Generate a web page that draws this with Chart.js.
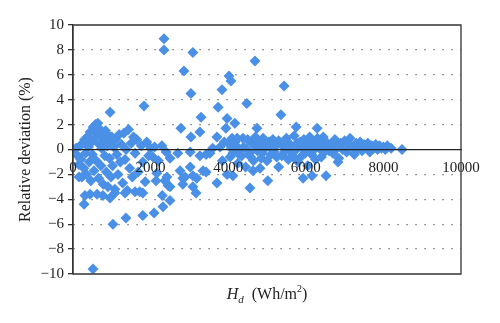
<!DOCTYPE html>
<html>
<head>
<meta charset="utf-8">
<script src="https://cdn.jsdelivr.net/npm/chart.js@4.4.1/dist/chart.umd.min.js"></script>
<style>
  html, body { margin: 0; padding: 0; background: #fff; }
  #wrap { width: 500px; height: 323px; }
</style>
</head>
<body>
<div id="wrap"><canvas id="devChart" width="500" height="323"></canvas></div>
<script>
// H_d (Wh/m2) vs relative deviation (%), grouped by range of H_d
var lowRange = [
  [0, 0], [80, 0.1], [120, -0.5], [150, -1.2], [155, -2.2], [180, 0.3], [200, -0.8], [230, -2.2],
  [260, 0.5], [280, -1.5], [285, -4.4], [300, 0.8], [310, -3.7], [320, -0.3], [350, -2.0], [370, 1.0],
  [400, 0.2], [420, -1.0], [440, 1.4], [440, -3.6], [460, -2.5], [480, 0.6], [500, -0.4], [515, -9.6],
  [520, 1.8], [540, -1.7], [560, 0.9], [580, 2.0], [600, -0.9], [620, 1.3], [620, -3.6], [640, 2.1],
  [660, -2.3], [680, 0.4], [700, 1.6], [720, -1.3], [740, 0.1], [760, 1.0], [770, -3.7], [780, -2.8],
  [800, 0.7], [820, -0.5], [840, 1.5], [860, -1.8], [880, 0.3], [900, -3.0], [920, 1.1], [940, -0.7],
  [955, 3.0], [955, -3.9], [960, 0.5], [980, -2.2], [1000, 1.0], [1020, -1.3], [1030, -6.0], [1050, 0.2],
  [1080, -3.2], [1080, -3.5], [1100, 0.8], [1130, -0.4], [1160, -2.0], [1190, 1.2], [1220, -1.0],
  [1250, 0.4], [1280, -2.7], [1310, 1.3], [1340, -0.8], [1340, -3.5], [1365, -5.5], [1370, 0.0],
  [1400, -3.3], [1430, 1.6], [1460, -1.5], [1500, 0.5], [1530, -2.2], [1560, 1.0], [1600, -0.3],
  [1600, -3.4], [1640, 0.8], [1680, -1.8], [1720, -3.4], [1760, 0.3], [1800, -1.0], [1800, -3.5],
  [1800, -5.3], [1830, 3.5], [1860, -2.6]
];

var midRange = [
  [1900, 0.6], [1950, -0.5], [2000, 0.1], [2060, -0.6], [2090, -5.1], [2100, 0.2], [2140, -2.5],
  [2160, -1.9], [2200, -0.9], [2290, 0.3], [2300, -3.7], [2320, -4.6], [2345, 8.9], [2345, 8.0],
  [2370, -2.5], [2400, -0.2], [2420, -2.2], [2450, -2.9], [2500, -0.7], [2500, -4.1], [2500, -3.0],
  [2700, -0.3], [2760, -1.7], [2780, 1.7], [2830, -2.3], [2830, -2.8], [2860, 6.3], [2890, -2.2],
  [3020, -0.2], [3020, -1.4], [3040, 4.5], [3040, 1.0], [3090, 7.8], [3090, -2.1], [3090, -3.0],
  [3170, -3.5], [3190, -2.3], [3270, 1.4], [3270, -0.5], [3300, 2.6], [3350, -1.7], [3430, -0.4],
  [3430, -1.8], [3530, -0.3], [3600, 0.1], [3710, 1.0], [3710, -2.7], [3740, 3.4], [3790, 0.2],
  [3840, 4.8], [3850, -0.9], [3900, 0.6], [3940, 1.7], [3970, 2.5], [3970, -2.0], [4020, 5.9],
  [4070, 5.5], [4120, -2.1], [4120, -0.3], [4170, 2.1], [4230, 0.9], [4300, 0.0]
];

var highRange = [
  [4000, 0.5], [4050, -0.6], [4080, 0.1], [4100, 0.9], [4150, -0.2], [4180, 0.6], [4200, 0.3],
  [4250, -1.1], [4280, -0.4], [4350, -0.5], [4380, 0.9], [4400, 0.2],
  [4450, -1.4], [4480, 3.7], [4480, 0.0], [4500, 0.8], [4550, -0.3], [4560, -3.1],
  [4580, -0.6], [4600, 0.5], [4640, -1.7], [4650, -0.9], [4680, 0.3], [4690, 7.1], [4700, 1.0],
  [4740, 1.7], [4750, -0.1], [4780, 0.7], [4800, 0.4], [4820, -1.5], [4850, -0.7], [4880, -0.3],
  [4900, 0.9], [4950, 0.1], [4980, 0.5], [5000, -0.9], [5020, -2.5], [5050, 0.6], [5080, 0.2],
  [5100, -0.4], [5150, 0.8], [5180, -0.2], [5200, 0.2], [5250, -0.6],
  [5280, 0.5], [5300, 0.7], [5300, -1.4], [5360, 2.8], [5380, -0.5], [5400, 0.3],
  [5440, 5.1], [5450, -0.2], [5480, 0.4], [5500, 0.9], [5550, -0.8], [5580, 0.1],
  [5600, 0.4], [5650, -0.3], [5680, -0.6], [5700, 1.1], [5750, 1.8], [5750, 0.0],
  [5780, 0.5], [5800, -1.0], [5850, 0.6], [5880, 0.2], [5900, -0.5], [5930, -2.3], [5950, 0.8],
  [5980, -0.3], [6000, 0.2], [6050, -1.3], [6080, 0.4], [6100, 1.0], [6150, -0.4],
  [6160, -2.1], [6180, -0.1], [6200, 0.5], [6250, -0.8], [6280, 0.2], [6290, 1.7], [6300, 0.9],
  [6350, 0.1], [6380, 0.6], [6400, -0.6], [6450, 1.0], [6480, -0.2],
  [6500, 0.3], [6520, -2.1], [6560, 0.5], [6600, -0.1]
];

var tailRange = [
  [6650, 0.4], [6700, -0.3], [6750, 0.8], [6800, 0.1], [6830, -1.0], [6850, -0.7], [6900, 0.5],
  [6950, 0.0], [7000, 0.7], [7050, -0.2], [7100, 0.4], [7140, 0.9], [7200, 0.2], [7250, -0.4],
  [7300, 0.5], [7350, 0.1], [7400, 0.6], [7450, -0.1], [7500, 0.4], [7550, 0.2], [7600, 0.5],
  [7650, -0.2], [7700, 0.3], [7750, 0.1], [7800, 0.4], [7850, 0.0], [7900, 0.3], [7950, 0.1],
  [8000, 0.2], [8050, 0.0], [8100, 0.3], [8200, 0.1], [8480, 0.0]
];

var xTicks = [0, 2000, 4000, 6000, 8000, 10000];
var yTicks = [-10, -8, -6, -4, -2, 0, 2, 4, 6, 8, 10];

var serif = "'Liberation Serif', 'DejaVu Serif', serif";
var markColor = '#4a90e6';

function toPoints(list) {
  return list.map(function (p) { return { x: p[0], y: p[1] }; });
}

// frame around the plot area plus the H_d axis title (needs sub/superscript)
var framePlugin = {
  id: 'frame',
  afterDraw: function (chart) {
    var ctx = chart.ctx;
    var a = chart.chartArea;
    ctx.save();
    ctx.setLineDash([]);
    ctx.strokeStyle = '#333';
    ctx.lineWidth = 1.3;
    ctx.beginPath();
    ctx.moveTo(a.left, a.top);
    ctx.lineTo(a.right, a.top);
    ctx.lineTo(a.right, a.bottom);
    ctx.lineTo(a.left, a.bottom);
    ctx.closePath();
    ctx.stroke();

    ctx.fillStyle = '#222';
    ctx.textBaseline = 'alphabetic';
    var parts = [
      { t: 'H', f: 'italic 16px ' + serif, dy: 0 },
      { t: 'd', f: 'italic 11px ' + serif, dy: 4 },
      { t: '  (Wh/m', f: '16px ' + serif, dy: 0 },
      { t: '2', f: '10px ' + serif, dy: -7 },
      { t: ')', f: '16px ' + serif, dy: 0 }
    ];
    var total = 0;
    parts.forEach(function (p) { ctx.font = p.f; p.w = ctx.measureText(p.t).width; total += p.w; });
    var x = (a.left + a.right) / 2 - total / 2;
    var base = 299;
    parts.forEach(function (p) {
      ctx.font = p.f;
      ctx.fillText(p.t, x, base + p.dy);
      x += p.w;
    });
    ctx.restore();
  }
};

function drawChart() {
  var allPoints = toPoints(lowRange.concat(midRange, highRange, tailRange));

  new Chart(document.getElementById('devChart'), {
    type: 'scatter',
    data: {
      datasets: [{
        label: 'Relative deviation',
        data: allPoints,
        pointStyle: 'rectRot',
        pointRadius: 5.5,
        pointHoverRadius: 5.5,
        backgroundColor: markColor,
        borderColor: markColor,
        borderWidth: 0
      }]
    },
    options: {
      responsive: false,
      animation: false,
      layout: {
        padding: { left: 0, right: 39, top: 25, bottom: 49 }
      },
      scales: {
        x: {
          type: 'linear',
          position: { y: 0 },
          min: 0,
          max: 10000,
          afterBuildTicks: function (axis) {
            axis.ticks = xTicks.map(function (v) { return { value: v }; });
          },
          grid: { display: false },
          border: { display: true, color: '#222', width: 1.3, z: 1 },
          ticks: {
            z: 1,
            padding: 2,
            maxRotation: 0,
            color: '#222',
            font: { family: serif, size: 15 },
            callback: function (value) { return String(value); }
          }
        },
        y: {
          type: 'linear',
          min: -10,
          max: 10,
          afterBuildTicks: function (axis) {
            axis.ticks = yTicks.map(function (v) { return { value: v }; });
          },
          afterFit: function (axis) { axis.width = 73; },
          // dotted grid lines take their dash from border.dash; the solid left
          // edge is redrawn by the frame plugin
          border: { display: true, color: '#333', width: 1.3, dash: [1.5, 7.5] },
          grid: {
            drawOnChartArea: true,
            drawTicks: true,
            tickLength: 5,
            tickColor: '#333',
            tickWidth: 1.3,
            tickBorderDash: [],
            lineWidth: 1.3,
            color: function (c) {
              var v = c.tick ? c.tick.value : 0;
              if (v === 0 || v === 10 || v === -10) return 'rgba(0,0,0,0)';
              return '#777';
            }
          },
          ticks: {
            padding: 4,
            color: '#222',
            font: { family: serif, size: 15 },
            callback: function (value) {
              return value < 0 ? '\u2212' + Math.abs(value) : String(value);
            }
          },
          title: {
            display: true,
            text: 'Relative deviation (%)',
            color: '#222',
            font: { family: serif, size: 16 },
            padding: { top: 16, bottom: 0 }
          }
        }
      },
      plugins: {
        legend: { display: false },
        tooltip: { enabled: false }
      }
    },
    plugins: [framePlugin]
  });
}

drawChart();
</script>
</body>
</html>
